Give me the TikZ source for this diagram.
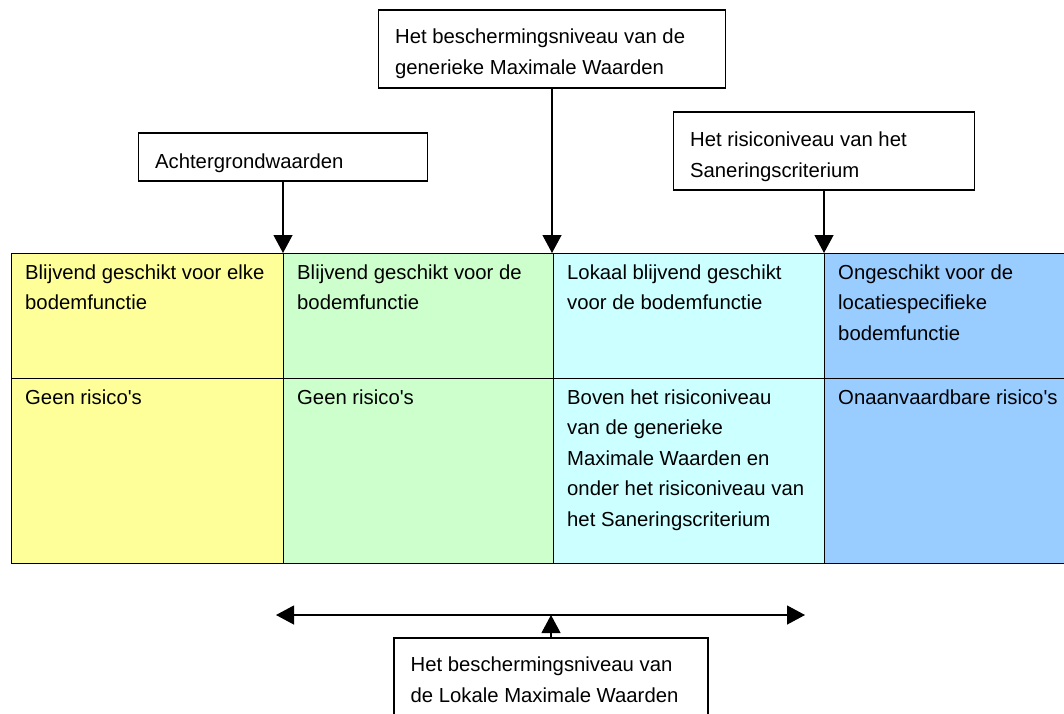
\documentclass[tikz,border=0pt]{standalone}
\usepackage{fontspec}
\setmainfont{Liberation Sans}
\usetikzlibrary{arrows.meta, positioning, calc}

\definecolor{geel}{HTML}{FFFF99}
\definecolor{groen}{HTML}{CCFFCC}
\definecolor{lichtblauw}{HTML}{CCFFFF}
\definecolor{blauw}{HTML}{99CCFF}

\begin{document}
\begin{tikzpicture}[
    x=1pt, y=-1pt,
    font=\fontsize{20.3}{30.5}\selectfont,
    cell/.style={draw, line width=1.2pt, anchor=north west, inner sep=0pt},
    box/.style={draw, line width=1.2pt, inner sep=0pt},
    txt/.style={align=left, inner sep=0pt},
    arr/.style={-{Triangle[length=18pt, width=19pt]}, line width=1.2pt},
    arr2/.style={{Triangle[length=18pt, width=19pt]}-{Triangle[length=18pt, width=19pt]}, line width=1.2pt}
]
\useasboundingbox (0,0) rectangle (1064,713);

% table cells
\node[cell, fill=geel, minimum width=272pt, minimum height=125pt] (c1a) at (11,253) {};
\node[cell, fill=groen, minimum width=270pt, minimum height=125pt] (c2a) at (283,253) {};
\node[cell, fill=lichtblauw, minimum width=271pt, minimum height=125pt] (c3a) at (553,253) {};
\node[cell, fill=blauw, minimum width=260pt, minimum height=125pt] (c4a) at (824,253) {};
\node[cell, fill=geel, minimum width=272pt, minimum height=185pt] (c1b) at (11,378) {};
\node[cell, fill=groen, minimum width=270pt, minimum height=185pt] (c2b) at (283,378) {};
\node[cell, fill=lichtblauw, minimum width=271pt, minimum height=185pt] (c3b) at (553,378) {};
\node[cell, fill=blauw, minimum width=260pt, minimum height=185pt] (c4b) at (824,378) {};

\node[txt, below right=11.5pt and 14pt of c1a.north west] (t1a) {Blijvend geschikt voor elke\\bodemfunctie};
\node[txt, below right=11.5pt and 14pt of c2a.north west] (t2a) {Blijvend geschikt voor de\\bodemfunctie};
\node[txt, below right=11.5pt and 14pt of c3a.north west] (t3a) {Lokaal blijvend geschikt\\voor de bodemfunctie};
\node[txt, below right=11.5pt and 14pt of c4a.north west] (t4a) {Ongeschikt voor de\\locatiespecifieke\\bodemfunctie};
\node[txt, below right=11.5pt and 14pt of c1b.north west] (t1b) {Geen risico\textquotesingle s};
\node[txt, below right=11.5pt and 14pt of c2b.north west] (t2b) {Geen risico\textquotesingle s};
\node[txt, below right=11.5pt and 14pt of c3b.north west] (t3b) {Boven het risiconiveau\\van de generieke\\Maximale Waarden en\\onder het risiconiveau van\\het Saneringscriterium};
\node[txt, below right=11.5pt and 14pt of c4b.north west] (t4b) {Onaanvaardbare risico\textquotesingle s};

% levels above the table
\node[box, minimum width=289pt, minimum height=48pt] (achter) at (283,157) {};
\node[txt, below right=21.5pt and 17pt of achter.north west] (achterT) {Achtergrondwaarden};
\node[box, minimum width=347pt, minimum height=78pt] (gmw) at (552,49) {};
\node[txt, below right=19.5pt and 17pt of gmw.north west] (gmwT) {Het beschermingsniveau van de\\generieke Maximale Waarden};
\node[box, minimum width=301pt, minimum height=78pt] (sanering) at (824,151) {};
\node[txt, below right=20.5pt and 17pt of sanering.north west] (saneringT) {Het risiconiveau van het\\Saneringscriterium};

\coordinate (k1) at (283,253);
\coordinate (k2) at (552,253);
\coordinate (k3) at (824,253);

\draw[arr] (achter) -- (k1);
\draw[arr] (gmw) -- (k2);
\draw[arr] (sanering) -- (k3);

% range of the local values
\coordinate (lo) at (276,615);
\coordinate (hi) at (805,615);
\coordinate (mid) at (551,615);
\draw[arr2] (lo) -- (hi);

\node[box, minimum width=314pt, minimum height=100pt] (lmw) at (551,688) {};
\node[txt, below right=19.5pt and 17pt of lmw.north west] (lmwT) {Het beschermingsniveau van\\de Lokale Maximale Waarden};
\draw[arr] (lmw) -- (mid);

\end{tikzpicture}
\end{document}
